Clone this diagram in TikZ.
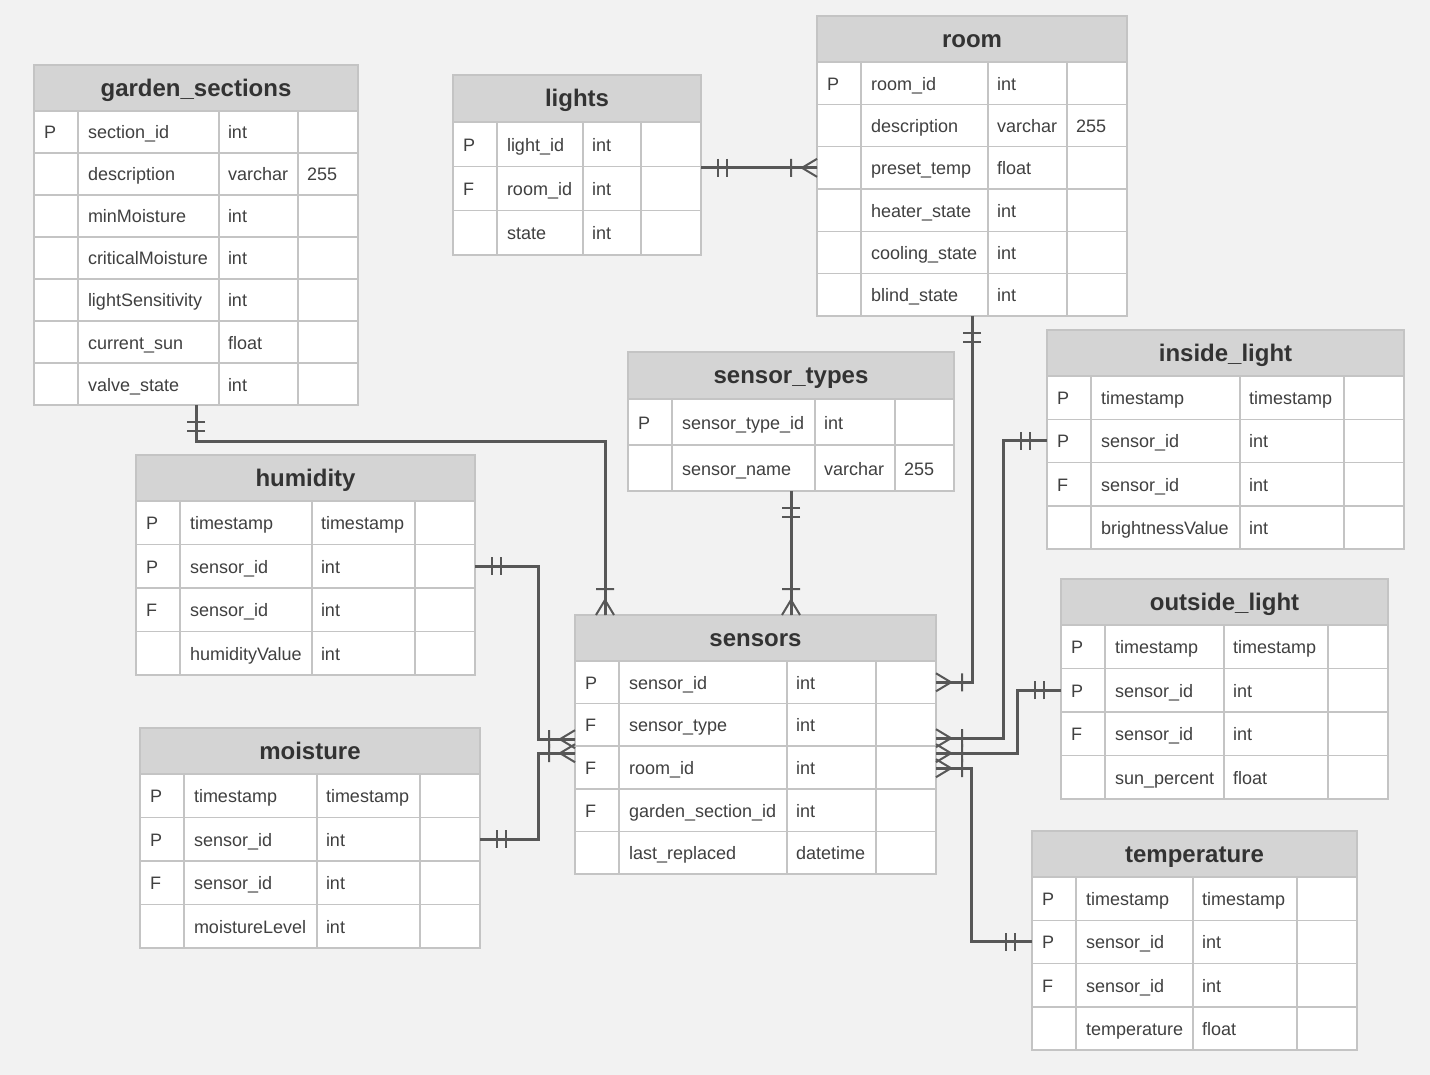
\documentclass[tikz,border=0pt]{standalone}
\usepackage{fontspec}
\setmainfont{Liberation Sans}
\usetikzlibrary{calc}
\definecolor{bg}{HTML}{F2F2F2}
\definecolor{hdrfill}{HTML}{D4D4D4}
\definecolor{gridc}{HTML}{C4C4C4}
\definecolor{txt}{HTML}{404040}
\definecolor{htxt}{HTML}{333333}
\definecolor{conn}{HTML}{575757}

\tikzset{
  tbl/.style={draw=gridc, line width=2pt, fill=white, inner sep=0pt, outer sep=0pt, rectangle},
  hdr/.style={draw=gridc, line width=2pt, fill=hdrfill, inner sep=0pt, outer sep=0pt, rectangle},
  rowbox/.style={draw=gridc, line width=1.5pt, inner sep=0pt, outer sep=0pt, rectangle},
  gridline/.style={draw=gridc, line width=1.5pt},
  celltext/.style={inner sep=0pt, outer sep=0pt, text=txt, font=\fontsize{18}{20}\selectfont, anchor=base west},
  hdrtext/.style={inner sep=0pt, outer sep=0pt, text=htxt, font=\fontsize{24}{28}\selectfont\bfseries, anchor=base},
  connector/.style={draw=conn, line width=3pt},
  ermark/.style={draw=conn, line width=2pt},
  onemark/.pic={\draw[ermark] (17,-9) -- (17,9) (26,-9) -- (26,9);},
  manymark/.pic={\draw[ermark] (0,-9) -- (15,0) -- (0,9) (0,0) -- (15,0) (26,-9) -- (26,9);},
}

\def\setxs#1,#2,#3,#4,#5\relax{\def\xa{#1}\def\xb{#2}\def\xc{#3}\def\xd{#4}\def\xe{#5}}
\newcommand\ertab[7]{%
  \setxs#2\relax
  \def\tn{#1}%
  \def\yh{#4}%
  \pgfmathsetmacro\rh{(#5-#4)/#6}%
  \node[tbl, anchor=north west, minimum width={\xe pt-\xa pt}, minimum height={#5pt-#3pt}] (#1) at (\xa,#3) {};
  \node[hdr, anchor=north west, minimum width={\xe pt-\xa pt}, minimum height={#4pt-#3pt}] (#1-h) at (\xa,#3) {};
  \node[hdrtext] (#1-title) at ({(\xa+\xe)/2},{(#3+#4)/2+8.5}) {#7};
}
\newcommand\errow[5]{%
  \pgfmathsetmacro\ya{\yh+(#1-1)*\rh}%
  \pgfmathsetmacro\yb{\ya+\rh}%
  \pgfmathsetmacro\ym{\ya+\rh/2+7}%
  \node[rowbox, anchor=north west, minimum width={\xe pt-\xa pt}, minimum height={\rh pt}] (\tn-r#1) at (\xa,\ya) {};
  \draw[gridline] (\xb,\ya) -- (\xb,\yb) (\xc,\ya) -- (\xc,\yb) (\xd,\ya) -- (\xd,\yb);
  \node[celltext] (\tn-r#1-k) at (\xa+10,\ym) {#2};
  \node[celltext] (\tn-r#1-f) at (\xb+10,\ym) {#3};
  \node[celltext] (\tn-r#1-t) at (\xc+9,\ym) {#4};
  \node[celltext] (\tn-r#1-l) at (\xd+9,\ym) {#5};
}

\begin{document}
\begin{tikzpicture}[x=1pt,y=-1pt]
\useasboundingbox (0,0) rectangle (1430,1075);
\fill[bg] (0,0) rectangle (1430,1075);

% garden_sections
\ertab{garden}{34,78,219,298,358}{65}{111}{405}{7}{garden\_sections}
\errow{1}{P}{section\_id}{int}{}
\errow{2}{}{description}{varchar}{255}
\errow{3}{}{minMoisture}{int}{}
\errow{4}{}{criticalMoisture}{int}{}
\errow{5}{}{lightSensitivity}{int}{}
\errow{6}{}{current\_sun}{float}{}
\errow{7}{}{valve\_state}{int}{}

% lights
\ertab{lights}{453,497,583,641,701}{75}{122}{255}{3}{lights}
\errow{1}{P}{light\_id}{int}{}
\errow{2}{F}{room\_id}{int}{}
\errow{3}{}{state}{int}{}

% room
\ertab{room}{817,861,988,1067,1127}{16}{62}{316}{6}{room}
\errow{1}{P}{room\_id}{int}{}
\errow{2}{}{description}{varchar}{255}
\errow{3}{}{preset\_temp}{float}{}
\errow{4}{}{heater\_state}{int}{}
\errow{5}{}{cooling\_state}{int}{}
\errow{6}{}{blind\_state}{int}{}

% sensor_types
\ertab{stypes}{628,672,815,895,954}{352}{399}{491}{2}{sensor\_types}
\errow{1}{P}{sensor\_type\_id}{int}{}
\errow{2}{}{sensor\_name}{varchar}{255}

% inside_light
\ertab{inlight}{1047,1091,1240,1344,1404}{330}{376}{549}{4}{inside\_light}
\errow{1}{P}{timestamp}{timestamp}{}
\errow{2}{P}{sensor\_id}{int}{}
\errow{3}{F}{sensor\_id}{int}{}
\errow{4}{}{brightnessValue}{int}{}

% humidity
\ertab{humid}{136,180,312,415,475}{455}{501}{675}{4}{humidity}
\errow{1}{P}{timestamp}{timestamp}{}
\errow{2}{P}{sensor\_id}{int}{}
\errow{3}{F}{sensor\_id}{int}{}
\errow{4}{}{humidityValue}{int}{}

% moisture
\ertab{moist}{140,184,317,420,480}{728}{774}{948}{4}{moisture}
\errow{1}{P}{timestamp}{timestamp}{}
\errow{2}{P}{sensor\_id}{int}{}
\errow{3}{F}{sensor\_id}{int}{}
\errow{4}{}{moistureLevel}{int}{}

% sensors
\ertab{sensors}{575,619,787,876,936}{615}{661}{874}{5}{sensors}
\errow{1}{P}{sensor\_id}{int}{}
\errow{2}{F}{sensor\_type}{int}{}
\errow{3}{F}{room\_id}{int}{}
\errow{4}{F}{garden\_section\_id}{int}{}
\errow{5}{}{last\_replaced}{datetime}{}

% outside_light
\ertab{outlight}{1061,1105,1224,1328,1388}{579}{625}{799}{4}{outside\_light}
\errow{1}{P}{timestamp}{timestamp}{}
\errow{2}{P}{sensor\_id}{int}{}
\errow{3}{F}{sensor\_id}{int}{}
\errow{4}{}{sun\_percent}{float}{}

% temperature
\ertab{temp}{1032,1076,1193,1297,1357}{831}{877}{1050}{4}{temperature}
\errow{1}{P}{timestamp}{timestamp}{}
\errow{2}{P}{sensor\_id}{int}{}
\errow{3}{F}{sensor\_id}{int}{}
\errow{4}{}{temperature}{float}{}

% ---- connectors ----
% lights -> room
\coordinate (le) at (lights.east |- room-r3.west);
\draw[connector] (le) -- (room-r3.west);
\pic at (le) {onemark};
\pic[rotate=180] at (room-r3.west) {manymark};

% room -> sensors
\coordinate (rs) at (room.south |- sensors-r1.east);
\draw[connector] (room.south) -- (rs) -- (sensors-r1.east);
\pic[rotate=-90] at (room.south) {onemark};
\pic at (sensors-r1.east) {manymark};

% garden -> sensors
\coordinate (g1) at ($(garden.south)+(0,36)$);
\coordinate (sg) at ($(sensors.north west)+(30,0)$);
\draw[connector] (garden.south) -- (g1) -- (g1 -| sg) -- (sg);
\pic[rotate=-90] at (garden.south) {onemark};
\pic[rotate=90] at (sg) {manymark};

% sensor_types -> sensors
\coordinate (st) at (stypes.south |- sensors.north);
\draw[connector] (stypes.south) -- (st);
\pic[rotate=-90] at (stypes.south) {onemark};
\pic[rotate=90] at (st) {manymark};

% humidity / moisture -> sensors
\coordinate (hx) at ($(sensors.west)+(-37,0)$);
\coordinate (sl1) at ($(sensors-r3.north west)+(0,-7)$);
\coordinate (sl2) at ($(sensors-r3.north west)+(0,7)$);
\draw[connector] (humid-r2.east) -- (humid-r2.east -| hx) -- (hx |- sl1) -- (sl1);
\pic at (humid-r2.east) {onemark};
\pic[rotate=180] at (sl1) {manymark};
\draw[connector] (moist-r2.east) -- (moist-r2.east -| hx) -- (hx |- sl2) -- (sl2);
\pic at (moist-r2.east) {onemark};
\pic[rotate=180] at (sl2) {manymark};

% right side
\coordinate (sr1) at ($(sensors-r3.north east)+(0,-8)$);
\coordinate (sr2) at ($(sensors-r3.north east)+(0,7)$);
\coordinate (sr3) at ($(sensors-r3.north east)+(0,22)$);
\coordinate (ix) at ($(sensors.east)+(67,0)$);
\coordinate (ox) at ($(sensors.east)+(81,0)$);
\coordinate (tx) at ($(sensors.east)+(35,0)$);
\draw[connector] (inlight-r2.west) -- (inlight-r2.west -| ix) -- (ix |- sr1) -- (sr1);
\pic[rotate=180] at (inlight-r2.west) {onemark};
\pic at (sr1) {manymark};
\draw[connector] (outlight-r2.west) -- (outlight-r2.west -| ox) -- (ox |- sr2) -- (sr2);
\pic[rotate=180] at (outlight-r2.west) {onemark};
\pic at (sr2) {manymark};
\draw[connector] (sr3) -- (tx |- sr3) -- (tx |- temp-r2.west) -- (temp-r2.west);
\pic at (sr3) {manymark};
\pic[rotate=180] at (temp-r2.west) {onemark};
\end{tikzpicture}
\end{document}
